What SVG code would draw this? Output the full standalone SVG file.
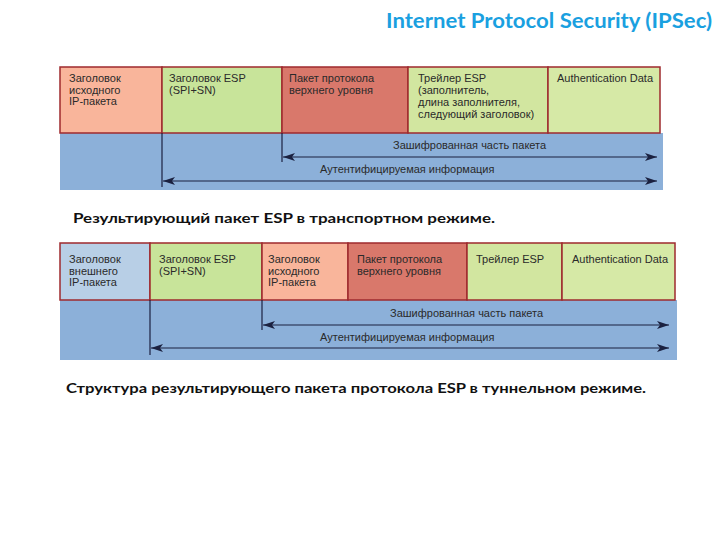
<svg xmlns="http://www.w3.org/2000/svg" width="720" height="540" viewBox="0 0 720 540">
<defs>
<style>
.t{font-family:"Liberation Sans",Arial,sans-serif;font-size:11px;fill:#2a2a2a}
.cap{font-family:Lato,"Liberation Sans",sans-serif;font-size:14px;font-weight:bold;fill:#111}
.box{stroke:#9e2a2e;stroke-width:1.5}
.ln{stroke:#1b2140;stroke-width:1.2;fill:none}
</style>
<marker id="ae" viewBox="0 0 12 8" refX="12" refY="4" markerWidth="12" markerHeight="8" markerUnits="userSpaceOnUse" orient="auto">
<path d="M0,0 L12,4 L0,8 L3,4 Z" fill="#1b2140"/>
</marker>
<marker id="as" viewBox="0 0 12 8" refX="0" refY="4" markerWidth="12" markerHeight="8" markerUnits="userSpaceOnUse" orient="auto">
<path d="M12,0 L0,4 L12,8 L9,4 Z" fill="#1b2140"/>
</marker>
</defs>
<rect width="720" height="540" fill="#fff"/>
<text x="712" y="28" text-anchor="end" font-family="Lato,'Open Sans',sans-serif" font-size="20" font-weight="bold" fill="#1aa0e0" textLength="326" lengthAdjust="spacingAndGlyphs">Internet Protocol Security (IPSec)</text>

<!-- Diagram 1: transport mode -->
<g id="d1-bg"><rect x="60" y="133" width="603" height="57" fill="#8cb0d9"/></g>
<g id="d1-ip"><rect class="box" x="60" y="67" width="102" height="66" fill="#f9b59b"/>
<text class="t" x="69" y="82">Заголовок</text><text class="t" x="69" y="93.5">исходного</text><text class="t" x="69" y="105">IP-пакета</text></g>
<g id="d1-esp"><rect class="box" x="162" y="67" width="120" height="66" fill="#c8e49a"/>
<text class="t" x="169" y="82">Заголовок ESP</text><text class="t" x="169" y="93.5">(SPI+SN)</text></g>
<g id="d1-upper"><rect class="box" x="282" y="67" width="126" height="66" fill="#d9786b"/>
<text class="t" x="289" y="82">Пакет протокола</text><text class="t" x="289" y="93.5">верхнего уровня</text></g>
<g id="d1-trailer"><rect class="box" x="408" y="67" width="140" height="66" fill="#d2e6a0"/>
<text class="t" x="418" y="82">Трейлер ESP</text><text class="t" x="418" y="94">(заполнитель,</text><text class="t" x="418" y="106">длина заполнителя,</text><text class="t" x="418" y="118">следующий заголовок)</text></g>
<g id="d1-auth"><rect class="box" x="548" y="67" width="112" height="66" fill="#d6e9a6"/>
<text class="t" x="557" y="82">Authentication Data</text></g>
<g id="d1-connectors">
<line class="ln" x1="162" y1="133" x2="162" y2="187"/>
<line class="ln" x1="282" y1="133" x2="282" y2="162"/>
<line class="ln" x1="283" y1="157" x2="657" y2="157" marker-start="url(#as)" marker-end="url(#ae)"/>
<line class="ln" x1="163" y1="181" x2="657" y2="181" marker-start="url(#as)" marker-end="url(#ae)"/>
<text class="t" x="393" y="149">Зашифрованная часть пакета</text>
<text class="t" x="320" y="173">Аутентифицируемая информация</text>
</g>
<text class="cap" x="73" y="223" textLength="422" lengthAdjust="spacingAndGlyphs">Результирующий пакет ESP в транспортном режиме.</text>

<!-- Diagram 2: tunnel mode -->
<g id="d2-bg"><rect x="60" y="300" width="617" height="60" fill="#8cb0d9"/></g>
<g id="d2-outer"><rect class="box" x="60" y="243" width="90" height="57" fill="#b8cfe6"/>
<text class="t" x="69" y="263">Заголовок</text><text class="t" x="69" y="274.5">внешнего</text><text class="t" x="69" y="286">IP-пакета</text></g>
<g id="d2-esp"><rect class="box" x="150" y="243" width="112" height="57" fill="#c8e49a"/>
<text class="t" x="159" y="263">Заголовок ESP</text><text class="t" x="159" y="274.5">(SPI+SN)</text></g>
<g id="d2-ip"><rect class="box" x="262" y="243" width="86" height="57" fill="#f9b59b"/>
<text class="t" x="268" y="263">Заголовок</text><text class="t" x="268" y="274.5">исходного</text><text class="t" x="268" y="286">IP-пакета</text></g>
<g id="d2-upper"><rect class="box" x="348" y="243" width="119" height="57" fill="#d9786b"/>
<text class="t" x="357" y="263">Пакет протокола</text><text class="t" x="357" y="274.5">верхнего уровня</text></g>
<g id="d2-trailer"><rect class="box" x="467" y="243" width="95" height="57" fill="#d2e6a0"/>
<text class="t" x="476" y="263">Трейлер ESP</text></g>
<g id="d2-auth"><rect class="box" x="562" y="243" width="113" height="57" fill="#d6e9a6"/>
<text class="t" x="572" y="263">Authentication Data</text></g>
<g id="d2-connectors">
<line class="ln" x1="150" y1="300" x2="150" y2="355"/>
<line class="ln" x1="262" y1="300" x2="262" y2="330"/>
<line class="ln" x1="263" y1="325" x2="669" y2="325" marker-start="url(#as)" marker-end="url(#ae)"/>
<line class="ln" x1="151" y1="348" x2="669" y2="348" marker-start="url(#as)" marker-end="url(#ae)"/>
<text class="t" x="390" y="317">Зашифрованная часть пакета</text>
<text class="t" x="320" y="341">Аутентифицируемая информация</text>
</g>
<text class="cap" x="66" y="393" textLength="580" lengthAdjust="spacingAndGlyphs">Структура результирующего пакета протокола ESP в туннельном режиме.</text>
</svg>
